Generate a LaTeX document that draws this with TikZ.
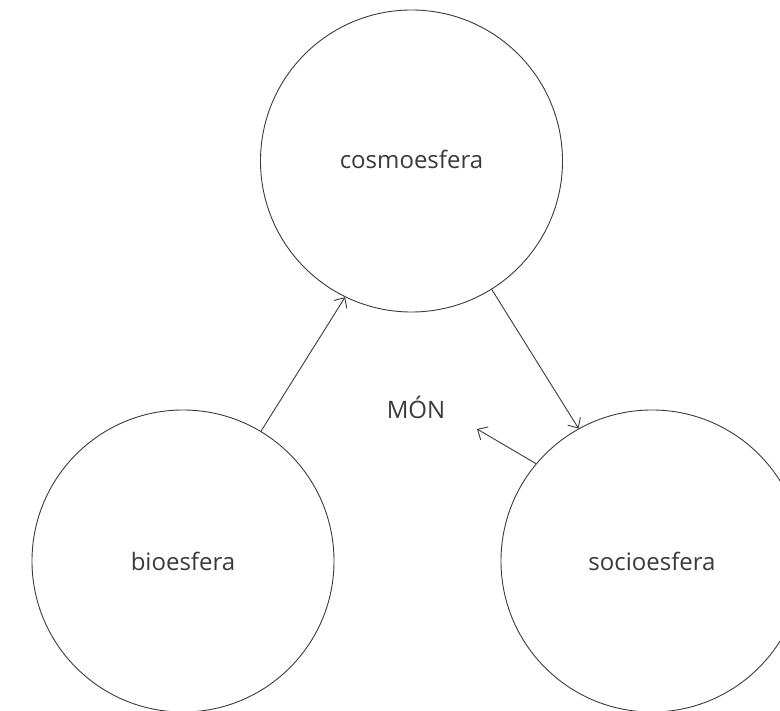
\documentclass[tikz,border=0pt]{standalone}
\usepackage{fontspec}
\setmainfont{Open Sans}
\usepackage{tikz}
\usetikzlibrary{arrows.meta}
\definecolor{ink}{RGB}{58,58,58}
\tikzstyle{sphere} = [circle, minimum size=302pt, inner sep=0pt, draw = ink, line width=0.9pt, text = ink, font=\fontsize{24}{28}\selectfont]
\tikzstyle{label} = [text = ink, font=\fontsize{24}{28}\selectfont]
\tikzstyle{arrow} = [->,>={Straight Barb[length=8pt,width=15pt]}, draw = ink, line width=0.9pt]

\begin{document}
\begin{tikzpicture}[x=1pt,y=-1pt]
	\useasboundingbox (0,0) rectangle (780,711);
	\clip (0,0) rectangle (780,711);
	%esferes
	\node (COSMO) [sphere] at (411.5,161) {\raisebox{3pt}{cosmoesfera}};
	\node (BIO) [sphere] at (183,561) {bioesfera};
	\node (SOCIO) [sphere] at (652,561) {socioesfera};
	\node (MON) [label] at (416,407) {MÓN};
	\coordinate (END) at (477,429);
	\draw [arrow](BIO.59)--(COSMO.244);
	\draw [arrow](COSMO.-58)--(SOCIO.119);
	\draw [arrow](SOCIO.140)--(END);
\end{tikzpicture}
\end{document}
